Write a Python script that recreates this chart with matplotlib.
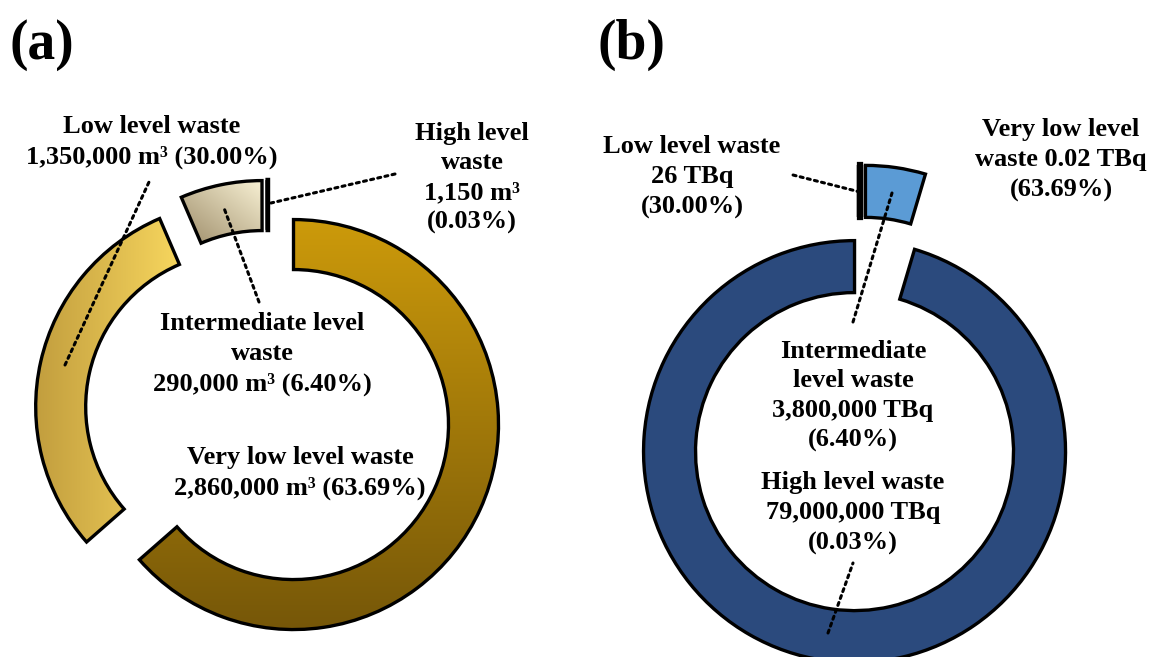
import numpy as np
import matplotlib
matplotlib.use("Agg")
import matplotlib.pyplot as plt
from matplotlib.colors import LinearSegmentedColormap

# ---------------- data ----------------
# (a) waste volume, m3 (clockwise from 12 o'clock)
vol_categories = ["Very low level waste", "Low level waste",
                  "Intermediate level waste", "High level waste"]
vol_values = [2860000, 1350000, 290000, 1150]
vol_labels = ["Very low level waste\n2,860,000 m³ (63.69%)",
              "Low level waste\n1,350,000 m³ (30.00%)",
              "Intermediate level\nwaste\n290,000 m³ (6.40%)",
              "High level\nwaste\n1,150 m³\n(0.03%)"]

# (b) radioactivity, TBq (clockwise from 12 o'clock)
act_categories = ["Low level waste", "Very low level waste",
                  "Intermediate level waste", "High level waste"]
act_values = [26, 0.02, 3800000, 79000000]
act_labels = ["Low level waste\n26 TBq\n(30.00%)",
              "Very low level\nwaste 0.02 TBq\n(63.69%)",
              "Intermediate\nlevel waste\n3,800,000 TBq\n(6.40%)",
              "High level waste\n79,000,000 TBq\n(0.03%)"]

panel_labels = ["(a)", "(b)"]

# ---------------- layout / style ----------------
W, H = 1150, 657
FONT = "Liberation Serif"

def px(x, y):
    return (x, H - y)

fig = plt.figure(figsize=(W / 100, H / 100), dpi=100)
ax = fig.add_axes([0, 0, 1, 1])

EDGE_LW = 2.4

def grad_fill(wedge, c0, c1, mode):
    bb = wedge.get_path().get_extents()
    t = np.linspace(0, 1, 256)
    if mode == "vertical":
        arr = np.repeat(t[:, None], 2, axis=1)
    elif mode == "horizontal":
        arr = np.repeat(t[None, :], 2, axis=0)
    else:
        X, Y = np.meshgrid(t, t)
        arr = (X + Y) / 2
    cmap = LinearSegmentedColormap.from_list("g", [c0, c1])
    im = ax.imshow(arr, cmap=cmap, extent=(bb.x0, bb.x1, bb.y0, bb.y1),
                   origin="lower", interpolation="bilinear", zorder=1,
                   aspect="auto")
    im.set_clip_path(wedge)

# ---- (a) volume donut ----
wedges_a, _ = ax.pie(vol_values, radius=205, center=px(268, 413),
                     startangle=90, counterclock=False,
                     explode=[28] * 4,
                     wedgeprops=dict(width=50, edgecolor="black",
                                     linewidth=EDGE_LW, facecolor="none",
                                     zorder=3))
vol_grads = [("#765708", "#CC9A0B", "vertical"),
             ("#C29E3E", "#F7D65E", "horizontal"),
             ("#9E8D6A", "#F8F1D4", "diag"),
             None]
for w, g in zip(wedges_a, vol_grads):
    if g is not None:
        grad_fill(w, *g)
    else:
        w.set_facecolor("black")
        w.set_linewidth(3.2)

# ---- (b) activity donut ----
act_colors = ["black", "black", "#5B9BD5", "#2B4A7D"]
wedges_b, _ = ax.pie(act_values, radius=211, center=px(860, 414),
                     startangle=90, counterclock=False,
                     explode=[38] * 4, colors=act_colors,
                     wedgeprops=dict(width=52, edgecolor="black",
                                     linewidth=EDGE_LW, zorder=3))
for w in wedges_b[:2]:
    w.set_linewidth(4.5)

# ---- labels ----
txt = dict(fontfamily=FONT, fontweight="bold", fontsize=19,
           ha="center", va="center", linespacing=1.38, zorder=6)
vol_pos = [px(300, 473), px(152, 142), px(262, 354), px(472, 178)]
act_pos = [px(692, 177), px(1061, 160), px(853, 396), px(853, 513)]
for lab, p in zip(vol_labels, vol_pos):
    ax.text(*p, lab, **txt)
for lab, p in zip(act_labels, act_pos):
    ax.text(*p, lab, **txt)

ax.text(*px(10, 45), panel_labels[0], fontfamily=FONT, fontweight="bold",
        fontsize=40, ha="left", va="center")
ax.text(*px(597, 45), panel_labels[1], fontfamily=FONT, fontweight="bold",
        fontsize=40, ha="left", va="center")

# ---- dotted leader lines ----
leaders = [((149, 182), (65, 365)),
           ((224, 208), (259, 302)),
           ((271, 203), (395, 174)),
           ((793, 175), (860, 192)),
           ((892, 193), (853, 322)),
           ((853, 563), (828, 633))]
for a, b in leaders:
    ax.annotate("", xy=px(*a), xytext=px(*b),
                arrowprops=dict(arrowstyle="-", linestyle=(0, (1, 1.4)),
                                linewidth=2.2, color="black",
                                shrinkA=0, shrinkB=0),
                zorder=7)

ax.set_xlim(0, W)
ax.set_ylim(0, H)
ax.set_aspect("auto")
ax.axis("off")

fig.savefig("out.png", dpi=100, facecolor="white")
